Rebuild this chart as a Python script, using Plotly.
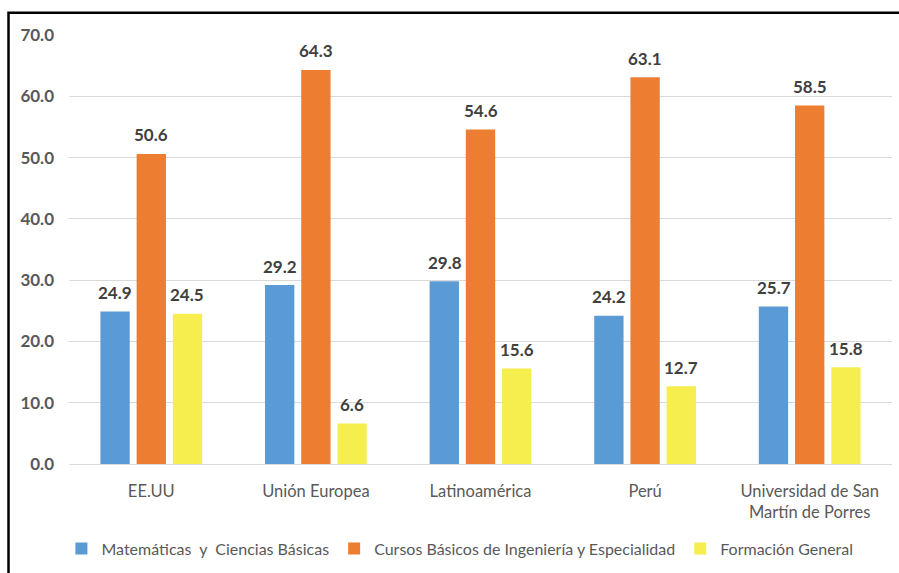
import plotly.graph_objects as go

categories = ["EE.UU", "Unión Europea", "Latinoamérica", "Perú",
              "Universidad de San<br>Martín de Porres"]
matematicas = [24.9, 29.2, 29.8, 24.2, 25.7]
cursos_basicos = [50.6, 64.3, 54.6, 63.1, 58.5]
formacion_general = [24.5, 6.6, 15.6, 12.7, 15.8]

series_names = ["Matemáticas  y  Ciencias Básicas",
                "Cursos Básicos de Ingeniería y Especialidad",
                "Formación General"]
series_values = [matematicas, cursos_basicos, formacion_general]
series_colors = ["#5B9BD5", "#ED7D31", "#F6EE4E"]

FONT = "Lato, 'Noto Sans', sans-serif"

fig = go.Figure()
for name, vals, color in zip(series_names, series_values, series_colors):
    fig.add_trace(go.Bar(
        x=categories, y=vals, name=name,
        marker=dict(color=color, line=dict(width=0)),
        hoverinfo="y",
    ))

# value labels above each bar, offset to the bar's slot in the group
slot_px = 36
for i, vals in enumerate(series_values):
    for cat, v in zip(categories, vals):
        fig.add_annotation(
            x=cat, y=v, text=f"{v:.1f}", showarrow=False,
            xshift=(i - 1) * slot_px, yshift=19, yanchor="middle",
            font=dict(family=FONT, size=17, color="#404040", weight="bold"),
        )

# outer frame
fig.add_shape(type="rect", xref="paper", yref="paper",
              x0=-0.0735, x1=1.2, y0=-0.6, y1=1.052,
              line=dict(color="black", width=2.5), layer="above")

fig.update_layout(
    width=899, height=573,
    margin=dict(l=69, r=7, t=35, b=106),
    paper_bgcolor="white", plot_bgcolor="white",
    barmode="group", bargap=0.34, bargroupgap=0.19,
    font=dict(family=FONT, color="#595959"),
    showlegend=True,
    legend=dict(orientation="h", x=0.475, xanchor="center", y=-0.197,
                yanchor="middle",
                font=dict(family=FONT, size=16, color="#595959"),
                itemwidth=30, traceorder="normal"),
    xaxis=dict(showgrid=False, showline=True, linecolor="#D9D9D9",
               linewidth=1, ticks="", ticklabelstandoff=12, automargin=False,
               tickfont=dict(family=FONT, size=16.5, color="#595959")),
    yaxis=dict(range=[0, 70], dtick=10, tickformat=".1f",
               showgrid=True, gridcolor="#D9D9D9", gridwidth=1,
               zeroline=False, showline=False, ticks="",
               ticklabelstandoff=14, automargin=False,
               tickfont=dict(family=FONT, size=17, color="#595959",
                             weight="bold")),
)

fig.write_html("out.html")
